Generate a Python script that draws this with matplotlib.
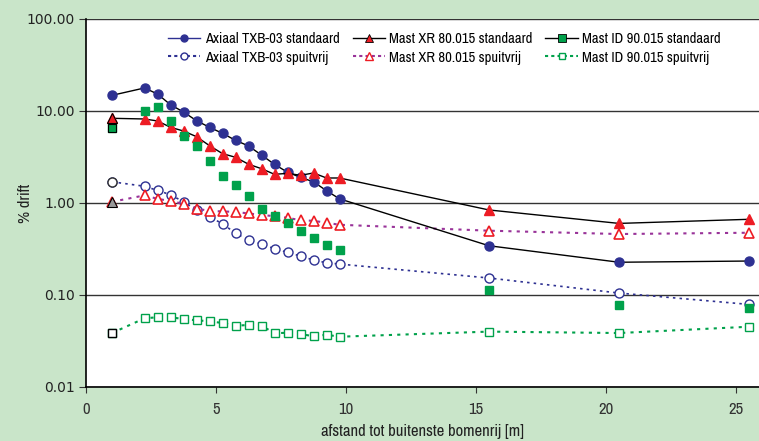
import matplotlib
matplotlib.use("Agg")
from matplotlib import pyplot as plt
from matplotlib.lines import Line2D
from matplotlib.ticker import FixedLocator, FuncFormatter, NullLocator

# afstand tot buitenste bomenrij [m]
afstand = [1, 2.25, 2.75, 3.25, 3.75, 4.25, 4.75, 5.25, 5.75, 6.25, 6.75,
           7.25, 7.75, 8.25, 8.75, 9.25, 9.75, 15.5, 20.5, 25.5]

# % drift
txb_std = [14.8, 17.8, 15.3, 11.7, 9.75, 7.85, 6.65, 5.72, 4.80, 4.17, 3.32,
           2.63, 2.16, 1.90, 1.70, 1.36, 1.11, 0.343, 0.227, 0.234]
xr_std = [8.33, 8.19, 7.79, 6.65, 6.06, 5.26, 4.20, 3.44, 3.14, 2.64, 2.36,
          2.05, 2.10, 2.00, 2.12, 1.87, 1.87, 0.84, 0.60, 0.665]
id_std = [6.53, 9.93, 11.0, 7.79, 5.35, 4.17, 2.86, 1.95, 1.56, 1.18, 0.855,
          0.72, 0.606, 0.496, 0.42, 0.347, 0.306, 0.113, 0.078, 0.073]
txb_sv = [1.70, 1.52, 1.37, 1.23, 1.03, 0.84, 0.705, 0.596, 0.468, 0.396, 0.358,
          0.319, 0.291, 0.265, 0.240, 0.224, 0.217, 0.153, 0.105, 0.079]
xr_sv = [1.03, 1.21, 1.11, 1.05, 0.98, 0.87, 0.82, 0.81, 0.80, 0.77, 0.74,
         0.72, 0.69, 0.65, 0.64, 0.61, 0.58, 0.50, 0.46, 0.475]
id_sv = [0.0386, 0.0558, 0.0573, 0.0573, 0.0548, 0.0531, 0.0518, 0.0496, 0.0464,
         0.0472, 0.0464, 0.0384, 0.0389, 0.0377, 0.0356, 0.0370, 0.0352,
         0.040, 0.0386, 0.0452]

labels = ["Axiaal TXB-03 standaard", "Mast XR 80.015 standaard", "Mast ID 90.015 standaard",
          "Axiaal TXB-03 spuitvrij", "Mast XR 80.015 spuitvrij", "Mast ID 90.015 spuitvrij"]

blue = "#2e3192"
red = "#ed1c24"
green = "#00a14b"
purple = "#993399"
bg = "#c9e5c9"
narrow = ["Liberation Sans Narrow", "Archivo Narrow", "DejaVu Sans"]

fig = plt.figure(figsize=(7.59, 4.41), dpi=100, facecolor=bg)
ax = fig.add_axes([86 / 759, 1 - 387 / 441, 1 - 86 / 759, (387 - 19) / 441])
ax.set_yscale("log")

ax.plot(afstand, txb_std, "-", color="black", lw=1, marker="o", ms=6.5,
        mfc=blue, mec=blue, zorder=5)
ax.plot(afstand, xr_std, "-", color="black", lw=1, marker="^", ms=7.5,
        mfc=red, mec=red, zorder=5)
ax.plot(afstand, id_std, "none", marker="s", ms=6, mfc=green, mec=green, zorder=5)
ax.plot(afstand, txb_sv, ls=(0, (1.5, 2.5)), color=blue, lw=1.2, marker="o", ms=6.5,
        mfc="white", mec=blue, mew=1, zorder=4)
ax.plot(afstand, xr_sv, ls=(0, (1.5, 2.5)), color=purple, lw=1.5, marker="^", ms=7.5,
        mfc="white", mec=red, mew=1.2, zorder=4)
ax.plot(afstand, id_sv, ls=(0, (1.5, 2.5)), color=green, lw=1.5, marker="s", ms=6,
        mfc="white", mec=green, mew=1, zorder=4)

# first points have a black edge
ax.plot(afstand[0], xr_std[0], "^", ms=7.5, mfc=red, mec="black", mew=0.8, zorder=6)
ax.plot(afstand[0], id_std[0], "s", ms=6, mfc=green, mec="black", mew=0.8, zorder=6)
ax.plot(afstand[0], txb_sv[0], "o", ms=6.5, mfc="white", mec="#333333", mew=1, zorder=6)
ax.plot(afstand[0], xr_sv[0], "^", ms=7.5, mfc="#999999", mec="black", mew=0.8, zorder=6)
ax.plot(afstand[0], id_sv[0], "s", ms=6, mfc="white", mec="black", mew=1, zorder=6)

ax.set_xlim(0, (759 - 86) / 26)
ax.set_ylim(0.01, 100)
ax.yaxis.set_major_locator(FixedLocator([0.01, 0.1, 1, 10, 100]))
ax.yaxis.set_minor_locator(NullLocator())
ax.yaxis.set_major_formatter(FuncFormatter(lambda v, p: "%.2f" % v))
ax.set_xticks([0, 5, 10, 15, 20, 25])
ax.grid(axis="y", color="#333333", lw=1)
ax.set_axisbelow(True)
for s in ["top", "right"]:
    ax.spines[s].set_visible(False)
ax.spines["left"].set_linewidth(1.2)
ax.spines["bottom"].set_linewidth(1.2)
ax.tick_params(axis="y", direction="out", length=5, labelsize=10, pad=3, colors="#333333")
ax.tick_params(axis="x", direction="out", length=4, labelsize=12, pad=7, colors="#333333")
for t in ax.get_xticklabels():
    t.set_family(narrow)
for t in ax.get_yticklabels():
    t.set_color("#222222")
ax.set_ylabel("% drift", fontsize=12, family=narrow, color="#222222")
ax.yaxis.set_label_coords(-0.079, 0.5)
ax.set_xlabel("afstand tot buitenste bomenrij [m]", fontsize=12, family=narrow,
              color="#222222", labelpad=5)

handles = [
    Line2D([], [], color=blue, marker="o", ms=5, mfc=blue, mec=blue, lw=1),
    Line2D([], [], color="black", marker="^", ms=6, mfc=red, mec="black", mew=0.6, lw=1),
    Line2D([], [], color="black", marker="s", ms=5.5, mfc=green, mec="black", mew=0.6, lw=1),
    Line2D([], [], color=blue, ls=(0, (1.5, 1.5)), lw=1.5, marker="o", ms=5, mfc="white", mec=blue),
    Line2D([], [], color=purple, ls=(0, (1.5, 1.5)), lw=1.5, marker="^", ms=6, mfc="white", mec=red),
    Line2D([], [], color=green, ls=(0, (1.5, 1.5)), lw=1.5, marker="s", ms=5, mfc="white", mec=green),
]
order = [0, 3, 1, 4, 2, 5]
leg = ax.legend([handles[i] for i in order], [labels[i] for i in order], ncol=3,
                loc="upper left", bbox_to_anchor=(0.1026, 1.0), frameon=False,
                prop={"family": narrow, "size": 10.5}, handlelength=2.2,
                handletextpad=0.3, columnspacing=0.9, labelspacing=0.3)

fig.savefig("out.png", dpi=100, facecolor=bg)
